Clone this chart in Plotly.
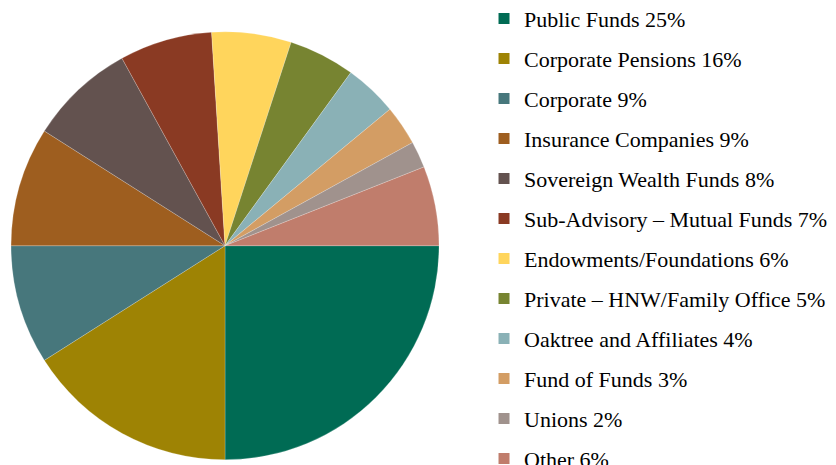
import plotly.graph_objects as go

categories = [
    "Public Funds 25%",
    "Corporate Pensions 16%",
    "Corporate 9%",
    "Insurance Companies 9%",
    "Sovereign Wealth Funds 8%",
    "Sub-Advisory – Mutual Funds 7%",
    "Endowments/Foundations 6%",
    "Private – HNW/Family Office 5%",
    "Oaktree and Affiliates 4%",
    "Fund of Funds 3%",
    "Unions 2%",
    "Other 6%",
]
values = [25, 16, 9, 9, 8, 7, 6, 5, 4, 3, 2, 6]
colors = [
    "#006B54", "#9E8304", "#47777C", "#9E5E1F", "#63524F", "#8A3A23",
    "#FFD55C", "#778431", "#8AB1B6", "#D39D64", "#A0928D", "#C07D6C",
]

fig = go.Figure()
fig.add_trace(go.Pie(
    labels=categories,
    values=values,
    marker=dict(colors=colors, line=dict(color="rgba(255,255,255,0.4)", width=0.5)),
    sort=False,
    direction="clockwise",
    rotation=90,
    textinfo="none",
    hoverinfo="label",
    showlegend=False,
    domain=dict(x=[0.00359, 0.5156], y=[0.0286, 0.949]),
))

for name, col in zip(categories, colors):
    fig.add_trace(go.Scatter(
        x=[None], y=[None], mode="markers", name=name,
        legendgroup=name,
        marker=dict(symbol="square", size=11, color=col),
        hoverinfo="skip",
    ))

fig.update_layout(
    width=836, height=465,
    margin=dict(l=0, r=0, t=0, b=0, autoexpand=False),
    paper_bgcolor="white", plot_bgcolor="white",
    xaxis=dict(visible=False), yaxis=dict(visible=False),
    font=dict(family="Liberation Serif, Times New Roman, serif", size=22, color="#000000"),
    legend=dict(
        x=0.5694, xanchor="left", y=1.0222, yanchor="top",
        tracegroupgap=8.4, maxheight=700,
        bgcolor="rgba(0,0,0,0)",
        font=dict(family="Liberation Serif, Times New Roman, serif", size=22, color="#000000"),
    ),
)
fig.write_html("out.html")
